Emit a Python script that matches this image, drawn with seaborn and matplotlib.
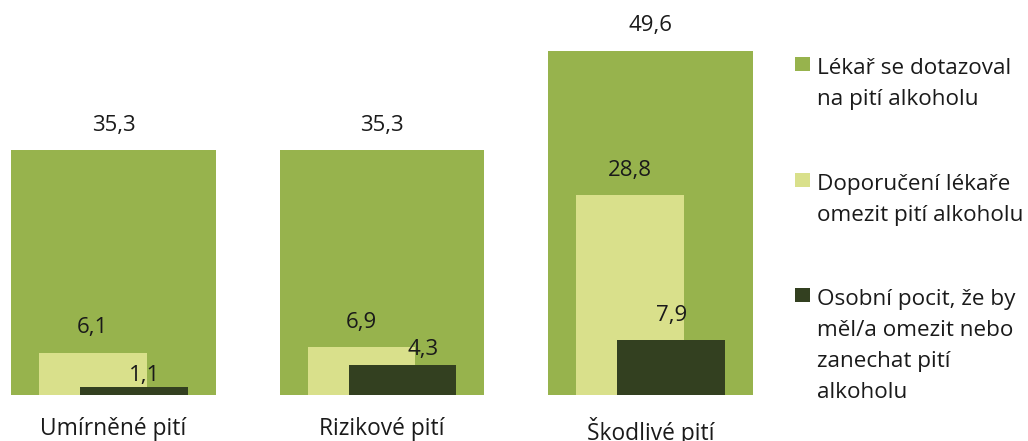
import matplotlib
matplotlib.use("Agg")
import matplotlib.pyplot as plt
from matplotlib.patches import Rectangle
import seaborn as sns
import numpy as np
import pandas as pd

# ---- data ----
categories = ["Umírněné pití", "Rizikové pití", "Škodlivé pití"]
series_names = ["Lékař se dotazoval\nna pití alkoholu",
                "Doporučení lékaře\nomezit pití alkoholu",
                "Osobní pocit, že by\nměl/a omezit nebo\nzanechat pití\nalkoholu"]
asked = [35.3, 35.3, 49.6]
advised = [6.1, 6.9, 28.8]
felt = [1.1, 4.3, 7.9]

# ---- style ----
colors = ["#97B34D", "#D9E08B", "#334020"]
widths = [0.763, 0.40, 0.40]
offsets = [0.0, -0.077, 0.077]
text_color = "#1a1a1a"
FONT = ["Open Sans", "DejaVu Sans"]

sns.set_theme(style="white")
plt.rcParams["font.family"] = FONT

W, H, DPI = 1028, 441, 100
fig = plt.figure(figsize=(W / DPI, H / DPI), dpi=DPI)
ax = fig.add_axes([0, 46 / H, 780 / W, 395 / H])

pos = np.arange(len(categories), dtype=float)
for vals, col, w, off in zip([asked, advised, felt], colors, widths, offsets):
    df = pd.DataFrame({"x": pos + off, "y": vals})
    sns.barplot(data=df, x="x", y="y", native_scale=True, width=w,
                color=col, saturation=1, errorbar=None, ax=ax,
                linewidth=0)

ax.set_xlim(-113.5 / 268.5, (780 - 113.5) / 268.5)
ax.set_ylim(0, 395 / 6.94)
for s in ax.spines.values():
    s.set_visible(False)
ax.set_yticks([])
ax.set_ylabel("")
ax.set_xlabel("")
ax.set_xticks(pos)
ax.set_xticklabels(categories, fontsize=16.4, color=text_color)
ax.tick_params(axis="x", length=0, pad=16)

# value labels (offset tweaks in pixels for labels that would collide)
tweak = {(0, 2): (10, 12), (1, 2): (20, 16)}
px = 72 / DPI
for si, (vals, off) in enumerate(zip([asked, advised, felt], offsets)):
    for ci, v in enumerate(vals):
        dx, dy = tweak.get((ci, si), (0, 25))
        ax.annotate(f"{v:.1f}".replace(".", ","), xy=(pos[ci] + off, v),
                    xytext=(dx * px, dy * px), textcoords="offset points",
                    ha="center", va="center", fontsize=16, color=text_color,
                    annotation_clip=False)

# legend drawn manually
entry_baselines = [74, 190, 305]
line_step = 31
for name, col, b in zip(series_names, colors, entry_baselines):
    fig.patches.append(Rectangle((795 / W, 1 - (b - 3) / H), 15 / W, 14 / H,
                                 transform=fig.transFigure, facecolor=col,
                                 edgecolor="none"))
    for li, line in enumerate(name.split("\n")):
        fig.text(817 / W, 1 - (b + li * line_step) / H, line, fontsize=16.2,
                 color=text_color, ha="left", va="baseline")

fig.savefig("out.png", dpi=DPI)
